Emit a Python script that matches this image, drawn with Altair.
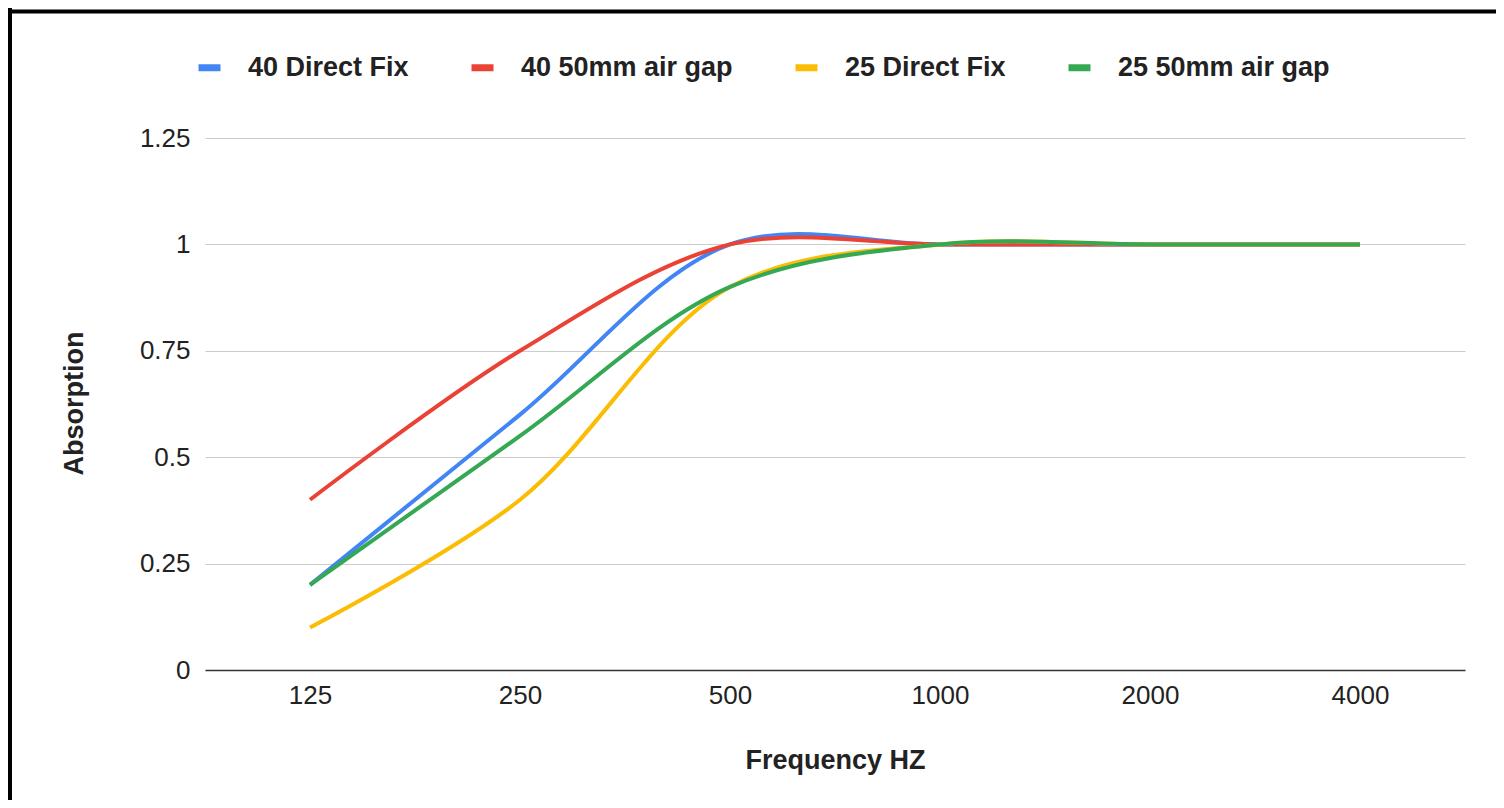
import altair as alt
import pandas as pd

# ---- data ----
freqs = ["125", "250", "500", "1000", "2000", "4000"]
series = ["40 Direct Fix", "40 50mm air gap", "25 Direct Fix", "25 50mm air gap"]
v40_direct = [0.2, 0.6, 1.0, 1.0, 1.0, 1.0]
v40_gap = [0.4, 0.75, 1.0, 1.0, 1.0, 1.0]
v25_direct = [0.1, 0.4, 0.9, 1.0, 1.0, 1.0]
v25_gap = [0.2, 0.55, 0.9, 1.0, 1.0, 1.0]
y_ticks = [0, 0.25, 0.5, 0.75, 1, 1.25]
colors = ["#4285F4", "#EA4335", "#FBBC04", "#34A853"]

rows = []
for name, vals in zip(series, [v40_direct, v40_gap, v25_direct, v25_gap]):
    for f, v in zip(freqs, vals):
        rows.append({"freq": f, "value": v, "series": name})
df = pd.DataFrame(rows)

FONT = "Liberation Sans"
W, H = 1260, 532

lines = alt.Chart(df).mark_line(interpolate="catmull-rom", strokeWidth=4).encode(
    x=alt.X(
        "freq:O",
        sort=freqs,
        scale=alt.Scale(type="point", padding=0.5),
        axis=alt.Axis(
            title="Frequency HZ",
            labelAngle=0,
            labelPadding=12,
            labelFontSize=26,
            labelColor="#222222",
            labelFont=FONT,
            ticks=False,
            grid=False,
            domain=True,
            domainColor="#333333",
            domainWidth=1.5,
            titleFont=FONT,
            titleFontSize=27,
            titleFontWeight="bold",
            titleColor="#222222",
            titleX=W / 2,
            titleY=98,
            titleBaseline="alphabetic",
            titleAlign="center",
        ),
    ),
    y=alt.Y(
        "value:Q",
        scale=alt.Scale(domain=[0, 1.25], nice=False),
        axis=alt.Axis(
            title="Absorption",
            values=y_ticks,
            labelExpr="'' + datum.value",
            labelPadding=15,
            labelFontSize=26,
            labelColor="#222222",
            labelFont=FONT,
            ticks=False,
            domain=False,
            grid=True,
            gridColor="#cccccc",
            gridWidth=1,
            titleFont=FONT,
            titleFontSize=27,
            titleFontWeight="bold",
            titleColor="#222222",
            titleAngle=270,
            titleX=-117,
            titleY=265,
            titleAlign="center",
            titleBaseline="bottom",
        ),
    ),
    color=alt.Color(
        "series:N",
        sort=series,
        scale=alt.Scale(domain=series, range=colors),
        legend=alt.Legend(
            title=None,
            orient="none",
            direction="horizontal",
            legendX=-10,
            legendY=-85,
            symbolType="stroke",
            symbolSize=484,
            symbolStrokeWidth=7,
            labelFont=FONT,
            labelFontSize=27,
            labelFontWeight="bold",
            labelColor="#222222",
            labelOffset=24,
            columnPadding=48,
            labelLimit=400,
        ),
    ),
)

border_left = alt.Chart(alt.Data(values=[{}])).mark_rule(
    color="black", strokeWidth=4
).encode(x=alt.value(-195), y=alt.value(-130), y2=alt.value(H + 130))

border_top = alt.Chart(alt.Data(values=[{}])).mark_rule(
    color="black", strokeWidth=4
).encode(x=alt.value(-198), x2=alt.value(W + 40), y=alt.value(-126.5))

chart = (
    alt.layer(lines, border_left, border_top)
    .properties(
        width=W,
        height=H,
        autosize=alt.AutoSizeParams(type="none"),
        padding={"left": 197, "top": 130, "right": 31, "bottom": 130},
        background="white",
    )
    .configure_view(stroke=None)
)

chart.save("out.html", embed_options={"renderer": "svg", "actions": False})
